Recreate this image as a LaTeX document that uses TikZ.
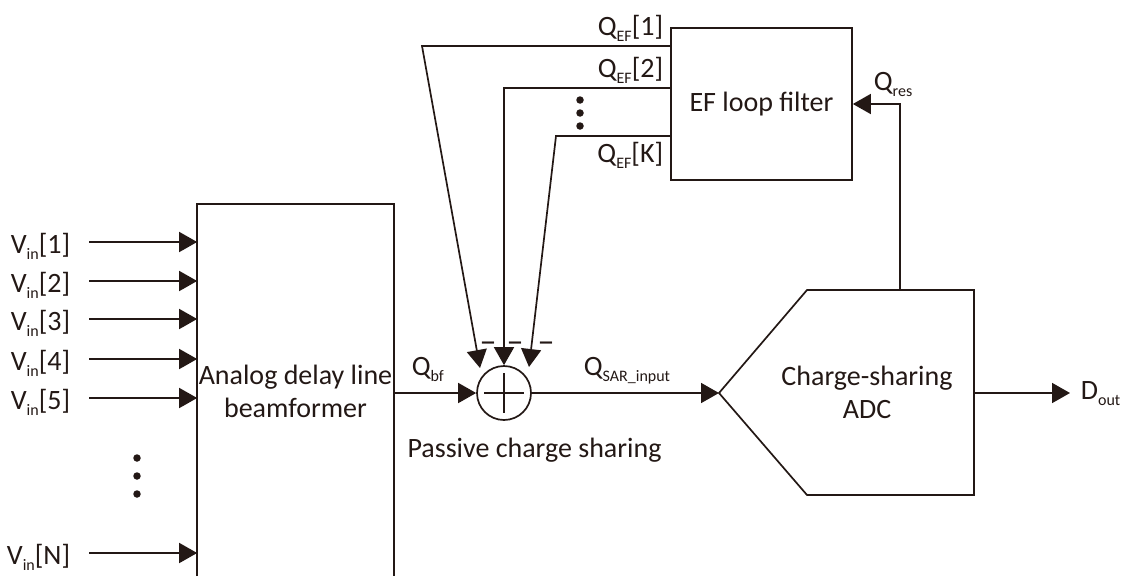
\documentclass[tikz,border=0pt]{standalone}
\usepackage{fontspec}
\setmainfont{Carlito}
\usepackage{xcolor}
\definecolor{ink}{RGB}{35,24,21}
\usetikzlibrary{arrows.meta,positioning,calc}
\newcommand{\lo}[1]{\raisebox{-6pt}{\fontsize{16}{16}\selectfont #1}}

\begin{document}
\begin{tikzpicture}[
  x=1pt,y=-1pt,
  color=ink,
  line width=1.7pt,
  font=\fontsize{28}{33}\selectfont,
  arr/.style={-{Triangle[length=18pt,width=20pt]}},
  blk/.style={rectangle,draw,inner sep=0pt},
  lbl/.style={inner sep=0pt},
  dot/.style={circle,fill,inner sep=0pt,minimum size=7.5pt},
  sumnode/.style={circle,draw,inner sep=0pt,minimum size=54pt},
]
  \useasboundingbox (0,0) rectangle (1123,576);
  \coordinate (floor) at (0,576);

  %% beamformer, its bottom edge runs off the page
  \node[blk,draw=none,minimum width=195pt,minimum height=372pt,align=center](bf) at (295.5,391){Analog delay line\\beamformer};
  \draw (bf.north west |- floor) -- (bf.north west) -- (bf.north east) -- (bf.north east |- floor);

  %% inputs
  \foreach \n/\y in {1/242,2/281,3/319,4/359,5/398,N/553}{
    \node[lbl,anchor=base east](vin\n) at (71,\y+11){V\lo{in}[\n]};
    \coordinate (in\n) at (89,\y);
    \draw[arr] (in\n) -- (in\n -| bf.west);
  }
  \foreach \y in {458,476,494}
    \node[dot] at (137,\y){};

  %% passive charge sharing
  \node[sumnode](sum) at (504,393){};
  \draw (sum.center) ++(-20,0) -- ++(40,0);
  \draw (sum.center) ++(0,-20) -- ++(0,40);
  \draw[arr] (sum -| bf.east) -- (sum.west);
  \node[lbl,anchor=base west](qbf) at (411,375){Q\lo{bf}};
  \node[lbl,anchor=base](pcs) at (534.5,457){Passive charge sharing};

  %% charge-sharing ADC
  \coordinate (adcin) at (719,393);
  \coordinate (adcout) at (974,393);
  \coordinate (adctap) at (900,290);
  \draw (adcin) -- (807,290) -- (974,290) -- (974,495) -- (807,495) -- cycle;
  \node[align=center](adc) at (867,392){Charge-sharing\\ADC};
  \draw[arr] (sum.east) -- (adcin);
  \node[lbl,anchor=base west](qsar) at (583,375){Q\lo{SAR\_input}};

  %% output
  \coordinate (dend) at (1070,393);
  \draw[arr] (adcout) -- (dend);
  \node[lbl,anchor=base west](dout) at (1080,399){D\lo{out}};

  %% EF loop filter
  \node[blk,minimum width=181pt,minimum height=152pt](ef) at (761.5,104){EF loop filter};
  \draw[arr] (adctap) |- (ef.east);
  \node[lbl,anchor=base west](qres) at (873,90){Q\lo{res}};

  %% feedback paths
  \coordinate (k1) at (422,46);
  \coordinate (k2) at (504,88);
  \coordinate (kK) at (556,136);
  \draw[arr] (k1 -| ef.west) -- (k1) -- ([shift={(-24,-25)}]sum.center);
  \draw[arr] (k2 -| ef.west) -- (k2) -- (sum.north);
  \draw[arr] (kK -| ef.west) -- (kK) -- ([shift={(25,-26)}]sum.center);
  \node[lbl,anchor=base east](qef1) at (664,35){Q\lo{EF}[1]};
  \node[lbl,anchor=base east](qef2) at (664,77){Q\lo{EF}[2]};
  \node[lbl,anchor=base east](qefK) at (664,162){Q\lo{EF}[K]};
  \foreach \y in {100,113,126}
    \node[dot] at (580,\y){};
  \foreach \x in {488,515,546}
    \node[lbl,anchor=base,font=\fontsize{34}{34}\selectfont] at (\x,352){–};
\end{tikzpicture}
\end{document}
